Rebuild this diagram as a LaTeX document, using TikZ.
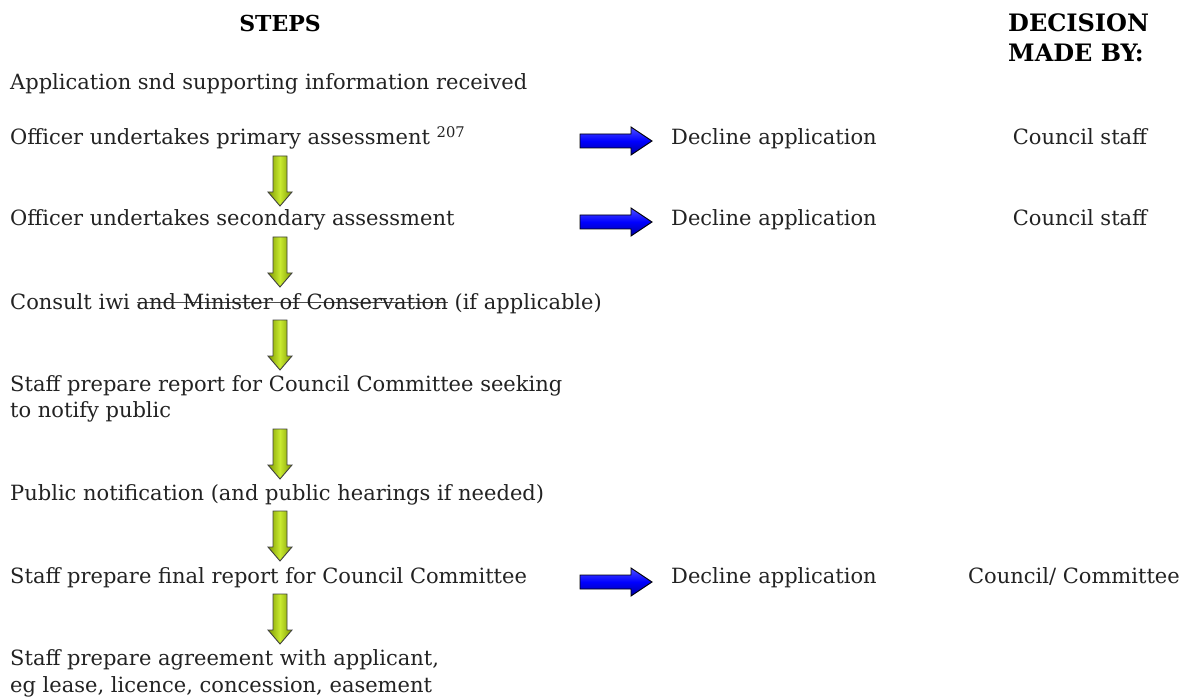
\documentclass[tikz,border=0pt]{standalone}
\usepackage{fontspec}
\setmainfont{DejaVu Serif}
\newsavebox{\strkbox}
\newcommand{\mystrike}[1]{\sbox{\strkbox}{#1}\rlap{\textcolor{black!70}{\rule[0.3em]{\wd\strkbox}{1pt}}}\usebox{\strkbox}}
\definecolor{txt}{HTML}{222222}
\definecolor{gedge}{HTML}{7E9800}
\definecolor{gmid}{HTML}{C8EA30}
\definecolor{bedge}{HTML}{0000A0}
\definecolor{bmid}{HTML}{0000FF}
\begin{document}
\begin{tikzpicture}[x=1pt,y=-1pt,
  txtnode/.style={anchor=base west,inner sep=0pt,text=txt,font=\fontsize{21}{24}\selectfont},
  headnode/.style={anchor=base,inner sep=0pt,text=black,font=\fontsize{22}{24}\selectfont\bfseries},
  greenarrow/.pic={\draw[draw=black!75,line width=0.9pt,left color=gedge,right color=gedge,middle color=gmid]
     (-7,0) -- (7,0) -- (7,36) -- (12,36) -- (0,50) -- (-12,36) -- (-7,36) -- cycle;},
  bluearrow/.pic={\draw[draw=black,line width=0.9pt,top color=bmid!70!white,bottom color=bedge,middle color=bmid]
     (0,-7) -- (51,-7) -- (51,-14) -- (72,0) -- (51,14) -- (51,7) -- (0,7) -- cycle;}
]
\useasboundingbox (0,0) rectangle (1190,700);
% headings
\node[headnode] (steps) at (280,32) {STEPS};
\node[headnode,anchor=base west,font=\fontsize{24}{26}\selectfont\bfseries] (dec1) at (1008,32) {DECISION};
\node[headnode,anchor=base west,font=\fontsize{24}{26}\selectfont\bfseries] (dec2) at (1008,62) {MADE BY:};
% steps
\node[txtnode] (s1) at (10,90) {Application snd supporting information received};
\node[txtnode] (s2) at (10,145) {Officer undertakes primary assessment \textsuperscript{207}};
\node[txtnode] (s3) at (10,226) {Officer undertakes secondary assessment};
\node[txtnode] (s4) at (10,309) {Consult iwi \mystrike{and Minister of Conservation} (if applicable)};
\node[txtnode] (s5a) at (10,391) {Staff prepare report for Council Committee seeking};
\node[txtnode] (s5b) at (10,417) {to notify public};
\node[txtnode] (s6) at (10,500) {Public notification (and public hearings if needed)};
\node[txtnode] (s7) at (10,583) {Staff prepare final report for Council Committee};
\node[txtnode] (s8a) at (10,665) {Staff prepare agreement with applicant,};
\node[txtnode] (s8b) at (10,692) {eg lease, licence, concession, easement};
% declines
\node[txtnode] (d1) at (671,145) {Decline application};
\node[txtnode] (d2) at (671,226) {Decline application};
\node[txtnode] (d3) at (671,583) {Decline application};
% decision makers
\node[txtnode,anchor=base] (m1) at (1080,145) {Council staff};
\node[txtnode,anchor=base] (m2) at (1080,226) {Council staff};
\node[txtnode,anchor=base] (m3) at (1074,583) {Council/ Committee};
% green arrows
\pic at (280,156) {greenarrow};
\pic at (280,237) {greenarrow};
\pic at (280,320) {greenarrow};
\pic at (280,429) {greenarrow};
\pic at (280,511) {greenarrow};
\pic at (280,594) {greenarrow};
% blue arrows
\pic at (580,141) {bluearrow};
\pic at (580,222) {bluearrow};
\pic at (580,582) {bluearrow};
\end{tikzpicture}
\end{document}
